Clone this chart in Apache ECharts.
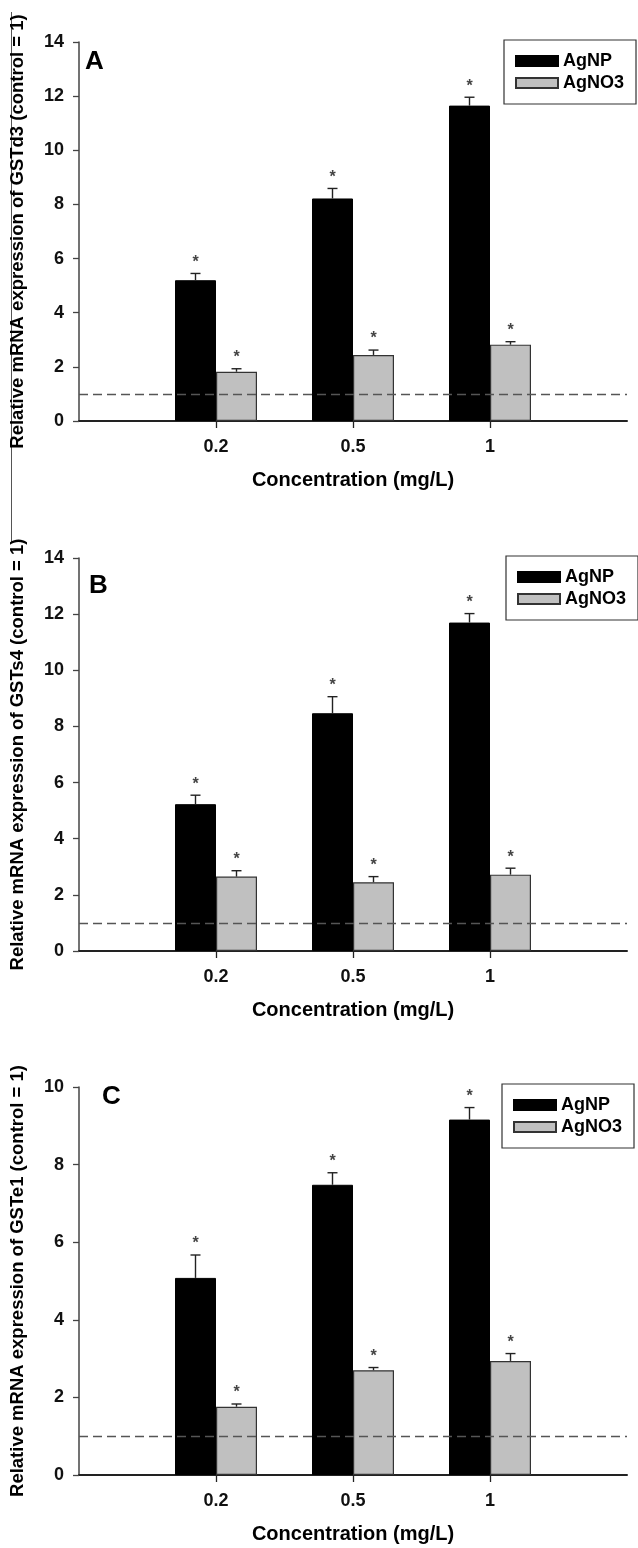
<!DOCTYPE html>
<html>
<head>
<meta charset="utf-8">
<title>GST expression</title>
<script src="https://cdn.jsdelivr.net/npm/echarts@6/dist/echarts.min.js"></script>
<style>
  html, body { margin: 0; padding: 0; background: #fff; }
  #chart { width: 638px; height: 1548px; }
</style>
</head>
<body>
<div id="chart"></div>
<script>
// Concentration categories (blank slots pad the axis on both sides)
const categories = ['', '0.2', '0.5', '1', ''];
const seriesNames = ['AgNP', 'AgNO3'];

// Panel A: GSTd3
const gstd3AgNP = [5.2, 8.22, 11.65];
const gstd3AgNPErr = [0.25, 0.37, 0.31];
const gstd3AgNO3 = [1.82, 2.44, 2.82];
const gstd3AgNO3Err = [0.11, 0.18, 0.11];

// Panel B: GSTs4
const gsts4AgNP = [5.23, 8.47, 11.7];
const gsts4AgNPErr = [0.32, 0.59, 0.32];
const gsts4AgNO3 = [2.65, 2.45, 2.72];
const gsts4AgNO3Err = [0.21, 0.2, 0.23];

// Panel C: GSTe1
const gste1AgNP = [5.08, 7.48, 9.16];
const gste1AgNPErr = [0.59, 0.31, 0.31];
const gste1AgNO3 = [1.76, 2.7, 2.94];
const gste1AgNO3Err = [0.07, 0.07, 0.19];

const panelLetters = ['A', 'B', 'C'];
const yTitles = [
  'Relative mRNA expression of GSTd3 (control = 1)',
  'Relative mRNA expression of GSTs4 (control = 1)',
  'Relative mRNA expression of GSTe1 (control = 1)'
];
const xTitle = 'Concentration (mg/L)';
const yMax = [14, 14, 10];
const yInterval = [2, 2, 2];
const controlLevel = 1;

const panels = [
  { agnp: gstd3AgNP, agnpErr: gstd3AgNPErr, agno3: gstd3AgNO3, agno3Err: gstd3AgNO3Err },
  { agnp: gsts4AgNP, agnpErr: gsts4AgNPErr, agno3: gsts4AgNO3, agno3Err: gsts4AgNO3Err },
  { agnp: gste1AgNP, agnpErr: gste1AgNPErr, agno3: gste1AgNO3, agno3Err: gste1AgNO3Err }
];

// Layout of the three stacked plots
const layout = [
  { top: 42, bottom: 1127, legendLeft: 504, legendTop: 40, letterLeft: 85, letterTop: 49 },
  { top: 558, bottom: 597, legendLeft: 506, legendTop: 556, letterLeft: 89, letterTop: 573 },
  { top: 1087, bottom: 73, legendLeft: 502, legendTop: 1084, letterLeft: 102, letterTop: 1084 }
];

const FONT = 'Liberation Sans, Arial, sans-serif';
const BAR_W = 41;
const BLACK = '#000000';
const GREY = '#c0c0c0';

function padded(arr) { return [null].concat(arr, [null]); }
function errData(vals, errs) { return vals.map((v, i) => [i + 1, v, errs[i]]); }

// Upward error bar with cap and significance asterisk
function makeErrRender(side) {
  return function (params, api) {
    const idx = api.value(0);
    const v = api.value(1);
    const e = api.value(2);
    const base = api.coord([idx, v]);
    const top = api.coord([idx, v + e]);
    const x = base[0] + side * BAR_W / 2;
    const stroke = { stroke: '#222', lineWidth: 1.4 };
    return {
      type: 'group',
      children: [
        { type: 'line', shape: { x1: x, y1: base[1], x2: x, y2: top[1] }, style: stroke },
        { type: 'line', shape: { x1: x - 5, y1: top[1], x2: x + 5, y2: top[1] }, style: stroke },
        { type: 'text', x: x, y: top[1] - 11,
          style: { text: '*', fill: '#444', font: 'bold 16px ' + FONT, align: 'center', verticalAlign: 'middle' } }
      ]
    };
  };
}

const grid = [], xAxis = [], yAxis = [], series = [], legend = [], graphic = [];

panels.forEach((p, k) => {
  const L = layout[k];
  grid.push({ left: 78.7, right: 11, top: L.top, bottom: L.bottom, containLabel: false });
  xAxis.push({
    type: 'category', gridIndex: k, data: categories, boundaryGap: false,
    name: xTitle, nameLocation: 'middle', nameGap: 49,
    nameTextStyle: { fontFamily: FONT, fontWeight: 'bold', fontSize: 20, color: '#000' },
    axisLine: { lineStyle: { color: '#222', width: 2 } },
    axisTick: { length: 7, interval: (i) => i >= 1 && i <= 3, lineStyle: { color: '#222', width: 1.3 } },
    axisLabel: { interval: 0, margin: 17, fontFamily: FONT, fontWeight: 'bold', fontSize: 18, color: '#111' },
    splitLine: { show: false }
  });
  yAxis.push({
    type: 'value', gridIndex: k, min: 0, max: yMax[k], interval: yInterval[k],
    name: yTitles[k], nameLocation: 'middle', nameGap: 52,
    nameTextStyle: { fontFamily: FONT, fontWeight: 'bold', fontSize: 18.5, color: '#000' },
    axisLine: { show: true, lineStyle: { color: '#444', width: 1.5 } },
    axisTick: { show: true, length: 6, lineStyle: { color: '#444', width: 1.3 } },
    axisLabel: { margin: 15, fontFamily: FONT, fontWeight: 'bold', fontSize: 18, color: '#111' },
    splitLine: { show: false }
  });
  series.push({
    name: seriesNames[0], type: 'bar', xAxisIndex: k, yAxisIndex: k,
    data: padded(p.agnp), barWidth: BAR_W, barGap: '0%',
    itemStyle: { color: BLACK, borderColor: '#000', borderWidth: 1 },
    markLine: {
      silent: true, symbol: 'none', label: { show: false },
      lineStyle: { color: '#555', type: [9, 5], width: 1.3 },
      data: [{ yAxis: controlLevel }]
    },
    z: 2
  });
  series.push({
    name: seriesNames[1], type: 'bar', xAxisIndex: k, yAxisIndex: k,
    data: padded(p.agno3), barWidth: BAR_W, barGap: '0%',
    itemStyle: { color: GREY, borderColor: '#333', borderWidth: 1.2 },
    z: 2
  });
  series.push({
    type: 'custom', xAxisIndex: k, yAxisIndex: k, renderItem: makeErrRender(-1),
    data: errData(p.agnp, p.agnpErr), z: 5, silent: true
  });
  series.push({
    type: 'custom', xAxisIndex: k, yAxisIndex: k, renderItem: makeErrRender(1),
    data: errData(p.agno3, p.agno3Err), z: 5, silent: true
  });
  legend.push({
    data: seriesNames.map((n) => ({ name: n, icon: 'rect' })),
    orient: 'vertical', left: L.legendLeft, top: L.legendTop,
    itemWidth: 42, itemHeight: 10, itemGap: 4,
    padding: [12, 12, 12, 11],
    borderColor: '#333', borderWidth: 1.2, backgroundColor: '#fff',
    textStyle: { fontFamily: FONT, fontWeight: 'bold', fontSize: 18, color: '#000', lineHeight: 18 },
    selectedMode: false
  });
  graphic.push({
    type: 'text', left: L.letterLeft, top: L.letterTop,
    style: { text: panelLetters[k], font: 'bold 26px ' + FONT, fill: '#000' }
  });
});

// thin rule along the left edge of the upper figure
graphic.push({
  type: 'line', shape: { x1: 11.5, y1: 12, x2: 11.5, y2: 542 },
  style: { stroke: '#555', lineWidth: 1 }
});

const chart = echarts.init(document.getElementById('chart'), null, { renderer: 'canvas' });
chart.setOption({
  animation: false,
  backgroundColor: '#fff',
  grid, xAxis, yAxis, series, legend, graphic
});
</script>
</body>
</html>
